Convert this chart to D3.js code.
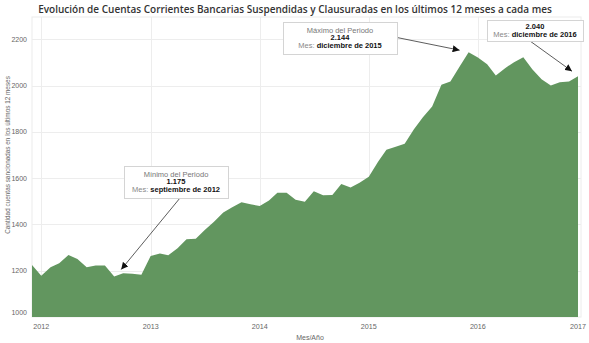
<!DOCTYPE html>
<html>
<head>
<meta charset="utf-8">
<script src="https://cdn.jsdelivr.net/npm/d3@7"></script>
<style>
  html, body { margin: 0; padding: 0; background: #fff; }
  svg { display: block; }
</style>
</head>
<body>
<svg id="chart" width="589" height="343"></svg>
<script>
// Monthly series: rolling 12-month count, Dec 2011 .. Dec 2016
const startMonth = "2011-12";
const values = [
  1225, 1178, 1215, 1232, 1268, 1251, 1215, 1222, 1223, 1175, 1189, 1187, 1182,
  1264, 1274, 1267, 1297, 1336, 1338, 1376, 1412, 1451, 1474, 1496, 1487,
  1480, 1503, 1537, 1537, 1506, 1498, 1543, 1526, 1527, 1575, 1559, 1580,
  1606, 1671, 1722, 1735, 1748, 1811, 1863, 1909, 2003, 2017, 2082, 2144,
  2121, 2092, 2043, 2075, 2101, 2122, 2070, 2027, 2000, 2014, 2017, 2040
];
const yTicks = [1000, 1200, 1400, 1600, 1800, 2000, 2200];
const xTickYears = [2012, 2013, 2014, 2015, 2016, 2017];

const titleText = "Evolución de Cuentas Corrientes Bancarias Suspendidas y Clausuradas en los últimos 12 meses a cada mes";
const yTitle = "Cantidad cuentas sancionadas en los últimos 12 meses";
const xTitle = "Mes/Año";

const parseMonth = d3.timeParse("%Y-%m");
const t0 = parseMonth(startMonth);
const data = values.map((v, i) => ({ date: d3.timeMonth.offset(t0, i), value: v }));

const svg = d3.select("#chart");
const plot = { left: 32, right: 578, top: 17, bottom: 317 };

const x = d3.scaleTime()
  .domain([data[0].date, data[data.length - 1].date])
  .range([plot.left, plot.right]);
const y = d3.scaleLinear()
  .domain([1000, 2296])
  .range([plot.bottom, plot.top]);

const font = "'Liberation Sans', Arial, sans-serif";

// Title
svg.append("text")
  .attr("x", 295).attr("y", 12.5)
  .attr("text-anchor", "middle")
  .attr("font-family", "'Open Sans', sans-serif")
  .attr("font-weight", 600)
  .attr("font-size", 10)
  .attr("fill", "#333")
  .text(titleText);

// Pane border
svg.append("rect")
  .attr("x", plot.left).attr("y", plot.top)
  .attr("width", plot.right + 3 - plot.left)
  .attr("height", plot.bottom - plot.top)
  .attr("fill", "none")
  .attr("stroke", "#ececec");

// Grid
const grid = svg.append("g").attr("stroke", "#ededed").attr("stroke-width", 1);
grid.selectAll("line.h").data(yTicks.slice(1)).join("line")
  .attr("x1", plot.left).attr("x2", plot.right + 3)
  .attr("y1", d => Math.round(y(d)) + 0.5).attr("y2", d => Math.round(y(d)) + 0.5);
grid.selectAll("line.v").data(xTickYears.filter(yr => x(new Date(yr, 0, 1)) < plot.right)).join("line")
  .attr("x1", d => Math.round(x(new Date(d, 0, 1))) + 0.5)
  .attr("x2", d => Math.round(x(new Date(d, 0, 1))) + 0.5)
  .attr("y1", plot.top).attr("y2", plot.bottom);

// Area
const area = d3.area()
  .x(d => x(d.date))
  .y0(y(1000))
  .y1(d => y(d.value));
svg.append("path")
  .datum(data)
  .attr("d", area)
  .attr("fill", "#62965f");

// Y axis labels
const yAxis = svg.append("g").attr("font-family", font).attr("font-size", 7).attr("fill", "#666");
yAxis.selectAll("text").data(yTicks).join("text")
  .attr("x", 27)
  .attr("y", d => Math.min(y(d), plot.bottom - 4))
  .attr("dy", "0.35em")
  .attr("text-anchor", "end")
  .text(d => d);

// X axis labels
const xAxis = svg.append("g").attr("font-family", font).attr("font-size", 7.2).attr("fill", "#666");
xAxis.selectAll("text").data(xTickYears).join("text")
  .attr("x", d => Math.min(x(new Date(d, 0, 1)), plot.right))
  .attr("y", 328.5)
  .attr("text-anchor", "middle")
  .text(d => d);

// Axis titles
svg.append("text")
  .attr("transform", "translate(9.5,155) rotate(-90)")
  .attr("text-anchor", "middle")
  .attr("font-family", font).attr("font-size", 6.4).attr("fill", "#666")
  .text(yTitle);
svg.append("text")
  .attr("x", 310).attr("y", 339.5)
  .attr("text-anchor", "middle")
  .attr("font-family", font).attr("font-size", 7).attr("fill", "#666")
  .text(xTitle);

// Arrow marker
svg.append("defs").append("marker")
  .attr("id", "arrow")
  .attr("viewBox", "0 0 10 10")
  .attr("refX", 10).attr("refY", 5)
  .attr("markerWidth", 7).attr("markerHeight", 7)
  .attr("markerUnits", "userSpaceOnUse")
  .attr("orient", "auto")
  .append("path").attr("d", "M0,0L10,5L0,10Z").attr("fill", "#111");

const fmt = d3.formatLocale({ decimal: ",", thousands: ".", grouping: [3], currency: ["$", ""] }).format(",");
const monthName = d3.timeFormatLocale({
  dateTime: "%x, %X", date: "%d/%m/%Y", time: "%H:%M:%S", periods: ["AM", "PM"],
  days: ["domingo","lunes","martes","miércoles","jueves","viernes","sábado"],
  shortDays: ["dom","lun","mar","mié","jue","vie","sáb"],
  months: ["enero","febrero","marzo","abril","mayo","junio","julio","agosto","septiembre","octubre","noviembre","diciembre"],
  shortMonths: ["ene","feb","mar","abr","may","jun","jul","ago","sep","oct","nov","dic"]
}).format("%B de %Y");

const minPt = data.reduce((a, b) => (b.value < a.value ? b : a));
const maxPt = data.reduce((a, b) => (b.value > a.value ? b : a));
const lastPt = data[data.length - 1];

// Callouts: box, text lines, leader line
function callout(pt, box, heading, from, tipOffset) {
  const g = svg.append("g");
  const tip = [x(pt.date) + tipOffset[0], y(pt.value) + tipOffset[1]];
  g.append("line")
    .attr("x1", from[0]).attr("y1", from[1])
    .attr("x2", tip[0]).attr("y2", tip[1])
    .attr("stroke", "#333").attr("stroke-width", 0.8)
    .attr("marker-end", "url(#arrow)");
  g.append("rect")
    .attr("x", box.x + 0.5).attr("y", box.y + 0.5)
    .attr("width", box.w).attr("height", box.h)
    .attr("fill", "#fff").attr("stroke", "#d4d4d4");
  const cx = box.x + box.w / 2;
  let ly = box.y + (heading ? 10.5 : 9);
  const step = 7.8;
  if (heading) {
    g.append("text").attr("x", cx).attr("y", ly)
      .attr("text-anchor", "middle").attr("font-family", font).attr("font-size", 7.5)
      .attr("fill", "#777").text(heading);
    ly += step;
  }
  g.append("text").attr("x", cx).attr("y", ly)
    .attr("text-anchor", "middle").attr("font-family", font).attr("font-size", 7.5)
    .attr("font-weight", "bold").attr("fill", "#111").text(fmt(pt.value));
  ly += step;
  const t = g.append("text").attr("x", cx).attr("y", ly)
    .attr("text-anchor", "middle").attr("font-family", font).attr("font-size", 7.5);
  t.append("tspan").attr("fill", "#888").text("Mes: ");
  t.append("tspan").attr("fill", "#111").attr("font-weight", "bold").text(monthName(pt.date));
}

callout(minPt, { x: 124, y: 166, w: 104, h: 32 }, "Mínimo del Periodo", [180, 198], [7, -7]);
callout(maxPt, { x: 283, y: 22, w: 114, h: 32 }, "Máximo del Periodo", [397, 37.5], [-9, -2]);
callout(lastPt, { x: 487, y: 20, w: 96, h: 21 }, null, [530, 41], [-6, -5]);
</script>
</body>
</html>
